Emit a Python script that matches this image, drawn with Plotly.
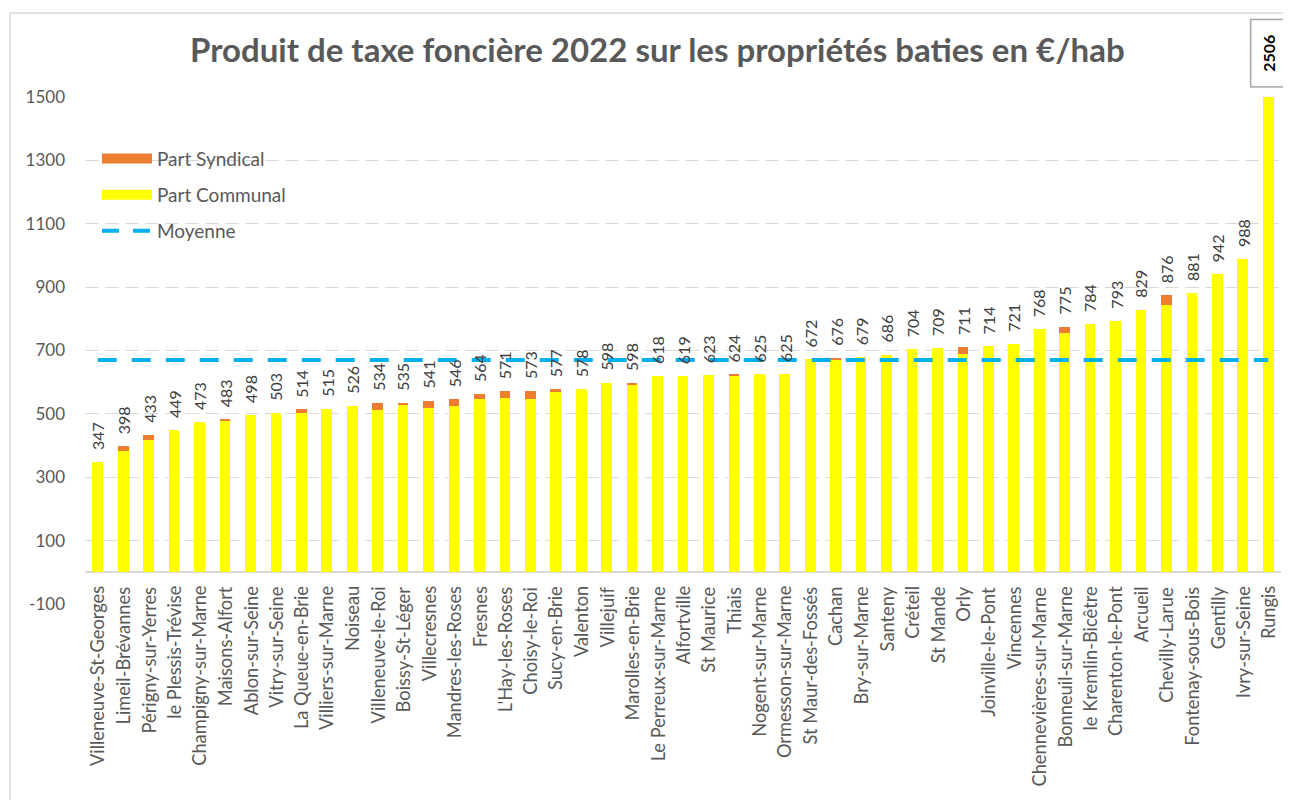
import plotly.graph_objects as go

COMMUNES = ["Villeneuve-St-Georges", "Limeil-Brévannes", "Périgny-sur-Yerres", "le Plessis-Trévise",
            "Champigny-sur-Marne", "Maisons-Alfort", "Ablon-sur-Seine", "Vitry-sur-Seine",
            "La Queue-en-Brie", "Villiers-sur-Marne", "Noiseau", "Villeneuve-le-Roi",
            "Boissy-St-Léger", "Villecresnes", "Mandres-les-Roses", "Fresnes", "L'Hay-les-Roses",
            "Choisy-le-Roi", "Sucy-en-Brie", "Valenton", "Villejuif", "Marolles-en-Brie",
            "Le Perreux-sur-Marne", "Alfortville", "St Maurice", "Thiais", "Nogent-sur-Marne",
            "Ormesson-sur-Marne", "St Maur-des-Fossés", "Cachan", "Bry-sur-Marne", "Santeny",
            "Créteil", "St Mande", "Orly", "Joinville-le-Pont", "Vincennes",
            "Chennevières-sur-Marne", "Bonneuil-sur-Marne", "le Kremlin-Bicêtre",
            "Charenton-le-Pont", "Arcueil", "Chevilly-Larue", "Fontenay-sous-Bois", "Gentilly",
            "Ivry-sur-Seine", "Rungis"]

TOTAL = [347, 398, 433, 449, 473, 483, 498, 503, 514, 515, 526, 534, 535, 541, 546, 564, 571,
         573, 577, 578, 598, 598, 618, 619, 623, 624, 625, 625, 672, 676, 679, 686, 704, 709,
         711, 714, 721, 768, 775, 784, 793, 829, 876, 881, 942, 988, 2506]

PART_SYNDICAL = [0, 15, 15, 0, 0, 4, 0, 0, 12, 0, 0, 21, 5, 21, 21, 18, 21, 25, 8, 0, 0, 5,
                 0, 0, 0, 3, 0, 0, 0, 5, 0, 0, 0, 0, 21, 0, 0, 0, 19, 0, 0, 0, 33, 0, 0, 0, 0]

PART_COMMUNAL = [347, 383, 418, 449, 473, 479, 498, 503, 502, 515, 526, 513, 530, 520, 525, 546,
                 550, 548, 569, 578, 598, 593, 618, 619, 623, 621, 625, 625, 672, 671, 679, 686,
                 704, 709, 690, 714, 721, 768, 756, 784, 793, 829, 843, 881, 942, 988, 2506]

MOYENNE = 670
Y_TICKS = [-100, 100, 300, 500, 700, 900, 1100, 1300, 1500]
Y_TICK_TEXT = ["-100", "100", "300", "500", "700", "900", "1100", "1300", "1500"]

TITLE = "Produit de taxe foncière 2022 sur les propriétés baties en €/hab"

YELLOW = "#FFFF00"
ORANGE = "#ED7D31"
BLUE = "#00B0F0"
GRAY_TXT = "#595959"
FONT = "Lato"

fig = go.Figure()

fig.add_trace(go.Bar(x=COMMUNES, y=PART_COMMUNAL, name="Part Communal",
                     marker=dict(color=YELLOW, line=dict(width=0)), showlegend=False))
fig.add_trace(go.Bar(x=COMMUNES, y=PART_SYNDICAL, name="Part Syndical",
                     marker=dict(color=ORANGE, line=dict(width=0)), showlegend=False))
fig.add_trace(go.Scatter(x=COMMUNES, y=[MOYENNE] * len(COMMUNES), mode="lines",
                         line=dict(color=BLUE, width=4, dash="19px,15px"),
                         name="Moyenne", showlegend=False))

# legend proxies
fig.add_trace(go.Scatter(x=[None], y=[None], mode="lines", name="Part Syndical",
                         line=dict(color=ORANGE, width=10), legendgroup="a", legendrank=1))
fig.add_trace(go.Scatter(x=[None], y=[None], mode="lines", name="Part Communal",
                         line=dict(color=YELLOW, width=10), legendgroup="b", legendrank=2))
fig.add_trace(go.Scatter(x=[None], y=[None], mode="lines", name="Moyenne",
                         line=dict(color=BLUE, width=4, dash="17px,14px"), legendgroup="c",
                         legendrank=3))

annotations = []
for c, t in zip(COMMUNES, TOTAL):
    annotations.append(dict(x=c, y=0, xref="x", yref="y", text=c, showarrow=False,
                            textangle=-90, yanchor="top", xanchor="center", yshift=-12,
                            font=dict(family=FONT, size=18.3, color=GRAY_TXT)))
    if t <= 1500:
        annotations.append(dict(x=c, y=t, xref="x", yref="y", text=str(t), showarrow=False,
                                textangle=-90, yanchor="bottom", xanchor="center", yshift=10,
                                font=dict(family=FONT, size=16, color="#404040")))
    else:
        annotations.append(dict(x=c, y=1.086, xref="x", yref="paper", text="<b>%d</b>" % t,
                                showarrow=False, textangle=-90, yanchor="middle",
                                xanchor="center", width=64, height=32, borderpad=1,
                                bordercolor="#A6A6A6", borderwidth=1.5, bgcolor="white",
                                font=dict(family=FONT, size=16, color="#000000")))

fig.update_layout(
    width=1291, height=800,
    margin=dict(l=77, r=18, t=89, b=204),
    paper_bgcolor="white", plot_bgcolor="white",
    barmode="stack", bargap=0.58,
    title=dict(text="<b>%s</b>" % TITLE, x=0.503, xref="container", xanchor="center",
               y=1 - 42 / 800, yref="container", yanchor="middle",
               font=dict(family=FONT, size=33, color=GRAY_TXT)),
    legend=dict(x=0.01, y=0.916, xanchor="left", yanchor="top", bgcolor="rgba(0,0,0,0)",
                font=dict(family=FONT, size=19, color=GRAY_TXT), itemwidth=50,
                tracegroupgap=8.5, traceorder="grouped"),
    annotations=annotations,
    shapes=[dict(type="rect", xref="paper", yref="paper", x0=-0.0627, x1=1.2,
                 y0=-0.6, y1=1.1657, line=dict(color="#D9D9D9", width=1.5),
                 fillcolor="rgba(0,0,0,0)", layer="below")],
)

fig.update_xaxes(showticklabels=False, showgrid=False, showline=False, ticks="",
                 range=[-0.5, len(COMMUNES) - 0.5])
fig.update_yaxes(range=[-100, 1500], tickvals=Y_TICKS, ticktext=Y_TICK_TEXT, showgrid=True,
                 gridcolor="#D9D9D9", griddash="14px,6px", gridwidth=1, zeroline=True,
                 zerolinecolor="#D9D9D9", zerolinewidth=1.5, ticks="", ticklabelstandoff=19,
                 tickfont=dict(family=FONT, size=17, color=GRAY_TXT))

fig.write_html("out.html")
